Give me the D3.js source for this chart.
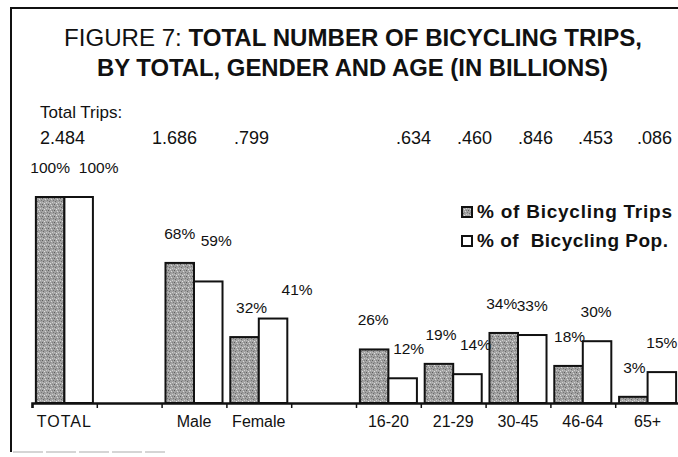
<!DOCTYPE html>
<html>
<head>
<meta charset="utf-8">
<script src="https://cdn.jsdelivr.net/npm/d3@7"></script>
<style>
  html, body { margin: 0; padding: 0; background: #fff; }
  svg { display: block; }
  text { font-family: "Liberation Sans", Arial, Helvetica, sans-serif; fill: #111; }
</style>
</head>
<body>
<svg id="chart" width="678" height="457"></svg>
<script>
// ---------------- data ----------------
const categories = ["TOTAL", "Male", "Female", "16-20", "21-29", "30-45", "46-64", "65+"];
const tripsPct   = [100, 68, 32, 26, 19, 34, 18, 3];    // % of Bicycling Trips
const popPct     = [100, 59, 41, 12, 14, 33, 30, 15];   // % of Bicycling Pop.
const totalTrips = ["2.484", "1.686", ".799", ".634", ".460", ".846", ".453", ".086"];
const seriesNames = ["% of Bicycling Trips", "% of  Bicycling Pop."];

// ---------------- layout ----------------
const W = 678, H = 457;
// slot keys: categories with empty spacer slots between groups
const slots = ["TOTAL", "_gap1", "Male", "Female", "_gap2", "16-20", "21-29", "30-45", "46-64", "65+"];
const baseY = 403, topY = 197;
const tripsX = [40, 152, 234, 396, 457, 518, 578, 637];    // text anchors for totals row
const tripsLblDx = [0, 0, 7, -1, 2, -2, 1, 1];
const popLblDx   = [20, 8, 24, 6, 8, 0, -1, 0];
const popLblRaise = [0, 11, 0, 0, 0, 0, 0, 0];   // extra lift of a label above its bar

const svg = d3.select("#chart");

// stipple pattern for the grey bars
const defs = svg.append("defs");
const pat = defs.append("pattern").attr("id", "stip")
  .attr("patternUnits", "userSpaceOnUse").attr("width", 6).attr("height", 6);
pat.append("rect").attr("width", 6).attr("height", 6).attr("fill", "#a2a2a2");
[[0,0,"#5e5e5e"],[3,1,"#d8d8d8"],[1,3,"#6a6a6a"],[4,4,"#cfcfcf"],[5,2,"#777"],[2,5,"#e0e0e0"],[0,4,"#bcbcbc"],[4,0,"#828282"],[2,2,"#8a8a8a"]]
  .forEach(([px, py, c]) => pat.append("rect").attr("x", px).attr("y", py).attr("width", 1).attr("height", 1).attr("fill", c));

// frame
svg.append("line").attr("x1", 11).attr("x2", 11).attr("y1", 7).attr("y2", 452)
  .attr("stroke", "#111").attr("stroke-width", 2);
svg.append("line").attr("x1", 10).attr("x2", W).attr("y1", 8).attr("y2", 8)
  .attr("stroke", "#111").attr("stroke-width", 2);
svg.append("line").attr("x1", 13).attr("x2", 165).attr("y1", 452).attr("y2", 452)
  .attr("stroke", "#c8c8c8").attr("stroke-width", 1.5).attr("stroke-dasharray", "30 3");

// title
const t1 = svg.append("text").attr("x", 64).attr("y", 46).attr("font-size", 24)
  .attr("textLength", 578).attr("lengthAdjust", "spacingAndGlyphs");
t1.append("tspan").text("FIGURE 7:  ");
t1.append("tspan").attr("font-weight", "bold").text("TOTAL NUMBER OF BICYCLING TRIPS,");
svg.append("text").attr("x", 97).attr("y", 76).attr("font-size", 24).attr("font-weight", "bold")
  .attr("textLength", 511).attr("lengthAdjust", "spacingAndGlyphs")
  .text("BY TOTAL, GENDER AND AGE (IN BILLIONS)");

// scales
const x = d3.scaleBand().domain(slots).range([32, 680]).paddingInner(0.12).paddingOuter(0.06);
const xSub = d3.scaleBand().domain([0, 1]).range([0, x.bandwidth()]);
const xTick = d3.scaleLinear().domain([0, slots.length]).range([32, 680]);
const y = d3.scaleLinear().domain([0, 100]).range([baseY, topY]);

// "Total Trips" row
svg.append("text").attr("x", 40).attr("y", 118).attr("font-size", 17).text("Total Trips:");
svg.append("g").selectAll("text").data(totalTrips).join("text")
  .attr("x", (d, i) => tripsX[i]).attr("y", 144).attr("font-size", 18).text(d => d);

// bars
const rows = categories.map((c, i) => ({ c, i, v: [tripsPct[i], popPct[i]] }));
const g = svg.append("g");
rows.forEach(r => {
  r.v.forEach((v, s) => {
    g.append("rect")
      .attr("x", x(r.c) + xSub(s)).attr("width", xSub.bandwidth())
      .attr("y", y(v)).attr("height", baseY - y(v))
      .attr("fill", s === 0 ? "url(#stip)" : "#fff")
      .attr("stroke", "#111").attr("stroke-width", 2);
  });
});

// value labels
rows.forEach(r => {
  r.v.forEach((v, s) => {
    const cx = x(r.c) + xSub(s) + xSub.bandwidth() / 2 + (s === 0 ? tripsLblDx[r.i] : popLblDx[r.i]);
    const lift = s === 0 ? 0 : popLblRaise[r.i];
    svg.append("text").attr("x", cx).attr("y", y(v) - 24 - lift)
      .attr("text-anchor", "middle").attr("font-size", 15.5).text(v + "%");
  });
});

// axis
const axis = d3.axisBottom(xTick).tickValues(d3.range(slots.length + 1)).tickSize(5).tickFormat("");
const ag = svg.append("g").attr("transform", `translate(0,${baseY})`).call(axis);
ag.select(".domain").attr("stroke", "#111").attr("stroke-width", 2.5);
ag.selectAll(".tick line").attr("stroke", "#111").attr("stroke-width", 1.5);

// category labels
svg.append("g").selectAll("text").data(categories).join("text")
  .attr("x", d => x(d) + x.bandwidth() / 2).attr("y", 427)
  .attr("text-anchor", "middle").attr("font-size", 16)
  .attr("letter-spacing", d => d === "TOTAL" ? 1 : 0)
  .text(d => d);

// legend
const lg = svg.append("g");
seriesNames.forEach((n, i) => {
  lg.append("rect").attr("x", 462).attr("y", 207 + i * 29).attr("width", 10).attr("height", 10)
    .attr("fill", i === 0 ? "url(#stip)" : "#fff").attr("stroke", "#111").attr("stroke-width", 2);
  lg.append("text").attr("x", 477).attr("y", 218 + i * 29).attr("font-size", 19).attr("font-weight", "bold")
    .attr("textLength", i === 0 ? 195 : 191).attr("lengthAdjust", "spacing")
    .attr("xml:space", "preserve").text(n);
});
</script>
</body>
</html>
